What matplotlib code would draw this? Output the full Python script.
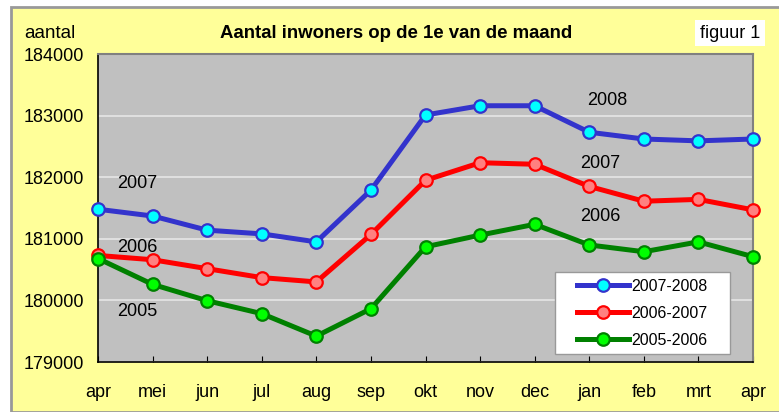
import matplotlib.pyplot as plt
import matplotlib.patches as mpatches
import numpy as np

plt.rcParams["font.family"] = ["Liberation Sans", "DejaVu Sans"]

months = ['apr', 'mei', 'jun', 'jul', 'aug', 'sep', 'okt', 'nov', 'dec',
          'jan', 'feb', 'mrt', 'apr']
s_2007_2008 = [181480, 181370, 181140, 181080, 180950, 181790, 183010,
               183160, 183160, 182730, 182620, 182590, 182620]
s_2006_2007 = [180730, 180660, 180515, 180370, 180300, 181070, 181950,
               182235, 182210, 181850, 181610, 181640, 181470]
s_2005_2006 = [180680, 180260, 179995, 179785, 179420, 179865, 180870,
               181060, 181235, 180900, 180790, 180950, 180710]

series = [
    ('2007-2008', s_2007_2008, '#3333CC', '#00FFFF'),
    ('2006-2007', s_2006_2007, '#FF0000', '#FF8080'),
    ('2005-2006', s_2005_2006, '#008000', '#00FF00'),
]

fig = plt.figure(figsize=(7.79, 4.12), dpi=100)
fig.patch.set_facecolor('white')
fig.patches.append(mpatches.Rectangle((11 / 779, 0), 1, 1 - 7 / 412,
                                      transform=fig.transFigure,
                                      facecolor='#FFFF99', edgecolor='#999999',
                                      linewidth=2, zorder=-10))

ax = fig.add_axes([98 / 779, 1 - 362 / 412, 655 / 779, 308 / 412])
ax.set_facecolor('#C0C0C0')

x = np.arange(len(months))
for label, vals, lc, fc in series:
    ax.plot(x, vals, color=lc, linewidth=3.6, marker='o', markersize=9,
            markerfacecolor=fc, markeredgecolor=lc, markeredgewidth=1.6,
            label=label, zorder=3, clip_on=False)

ax.set_xlim(0, len(months) - 1)
ax.set_ylim(179000, 184000)
ax.set_yticks(np.arange(179000, 184001, 1000))
ax.set_xticks(x)
ax.set_xticklabels(months)
ax.grid(axis='y', color='#E6E6E6', linewidth=1.2, zorder=0)
ax.tick_params(axis='x', direction='in', length=4.5, pad=16, labelsize=13)
ax.tick_params(axis='y', length=0, pad=10, labelsize=13)

for sp in ['left', 'bottom']:
    ax.spines[sp].set_color('black')
    ax.spines[sp].set_linewidth(1.2)
for sp in ['top', 'right']:
    ax.spines[sp].set_color('#808080')
    ax.spines[sp].set_linewidth(1.5)

# jaar-labels bij de lijnen
year_labels = [(0.35, 181900, '2007'), (0.35, 180860, '2006'), (0.35, 179820, '2005'),
               (8.96, 183250, '2008'), (8.83, 182230, '2007'), (8.83, 181370, '2006')]
for xi, yi, t in year_labels:
    ax.text(xi, yi, t, fontsize=13, ha='left', va='center')

# legenda met eigen wit kader
ax.add_patch(mpatches.Rectangle((0.698, 0.026), 0.267, 0.266, transform=ax.transAxes,
                                facecolor='white', edgecolor='#999999',
                                linewidth=1, zorder=4))
leg = ax.legend(loc='center', bbox_to_anchor=(0.831, 0.159), fontsize=11.5,
                frameon=False, handlelength=3.3, handletextpad=0.15,
                labelspacing=0.75, borderpad=0)
leg.set_zorder(5)

fig.text(396 / 779, 1 - 33 / 412, 'Aantal inwoners op de 1e van de maand',
         fontsize=13.4, fontweight='bold', ha='center', va='center')
fig.text(50 / 779, 1 - 33 / 412, 'aantal', fontsize=13.5, ha='center', va='center')
fig.text(730 / 779, 1 - 33 / 412, 'figuur 1', fontsize=13, ha='center', va='center',
         bbox=dict(facecolor='white', edgecolor='none', pad=3.5))

plt.savefig('out.png', dpi=100)
